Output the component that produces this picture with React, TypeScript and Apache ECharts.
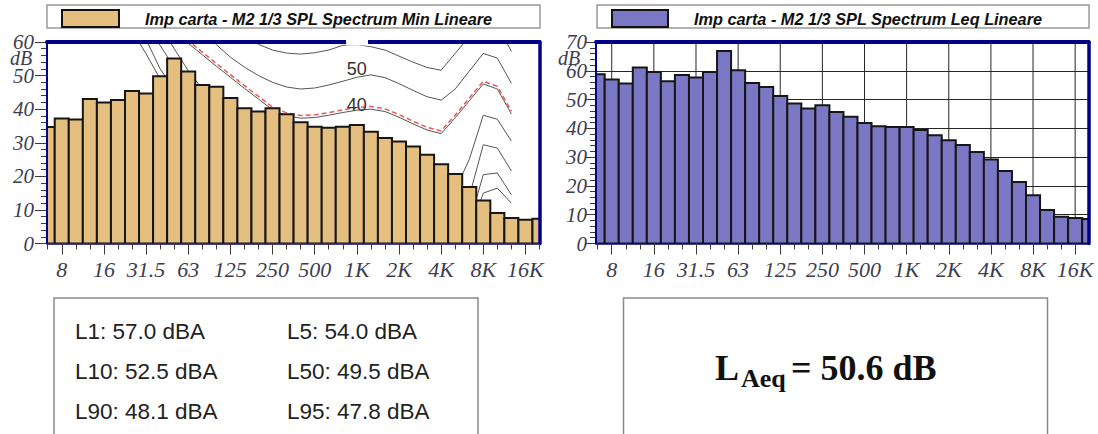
import React, { useEffect, useRef } from 'react';
import * as echarts from 'echarts';

// 1/3-octave band centres (Hz)
const bandLabels = ['6.3', '8', '10', '12.5', '16', '20', '25', '31.5', '40', '50', '63', '80', '100', '125', '160', '200', '250', '315', '400', '500', '630', '800', '1K', '1.25K', '1.6K', '2K', '2.5K', '3.15K', '4K', '5K', '6.3K', '8K', '10K', '12.5K', '16K', '20K'];
const octaveTickLabels = ['8', '16', '31.5', '63', '125', '250', '500', '1K', '2K', '4K', '8K', '16K'];

// Spectrum levels (dB)
const minLevels = [34.7, 37.2, 36.9, 43.0, 42.0, 42.7, 45.4, 44.7, 49.8, 55.1, 51.2, 47.2, 46.7, 43.3, 40.3, 39.3, 40.3, 38.5, 36.1, 34.8, 34.5, 34.8, 35.3, 33.3, 31.4, 30.4, 28.9, 26.4, 23.6, 20.7, 16.8, 12.8, 9.1, 7.6, 7.1, 7.4];
const leqLevels = [58.8, 57.0, 55.6, 61.1, 59.6, 56.4, 58.5, 57.7, 59.6, 66.9, 60.2, 55.8, 54.4, 51.2, 48.6, 46.9, 48.0, 45.7, 44.0, 41.9, 40.7, 40.5, 40.5, 39.4, 37.6, 35.9, 34.2, 31.8, 29.2, 25.2, 21.4, 16.8, 11.6, 9.3, 8.9, 8.5];

// Equal-loudness contours drawn in the Min chart (dB per band, null = not drawn)
const N = null;
const phonThreshold = [N, N, N, N, N, N, 63.4, 56.5, 49, 42.5, 36.5, 31, 26.5, 22.5, 19, 16, 13.5, 11.5, 10, 9, 8.5, 8, 8, 8, 7, 5, 3, 1.5, 0.5, 0.5, 3, 15, 16.5, 12, N, N];
const phon10 = [N, N, N, N, N, N, 68, 60.8, 52, 46, 40.5, 35.5, 31, 27, 23.5, 20.5, 18, 16, 14.5, 13.8, 13.5, 13.5, 13.5, 13.5, 12.5, 10.5, 8, 6, 4.5, 4, 6, 20.5, 21, 14.5, N, N];
const phon20 = [N, N, N, N, N, N, N, 66, 59, 52.5, 46.5, 41, 36.5, 32.5, 29, 26.5, 24, 22.5, 21.5, 21.3, 21.5, 22, 22.3, 22.3, 21.3, 19.3, 17, 14.5, 12, 10, 14, 29.4, 28.4, 21.6, N, N];
const phon30 = [N, N, N, N, N, N, N, N, 65, 58, 51.5, 46, 41.5, 38, 35, 32.5, 30.5, 29, 28.5, 28.8, 29.3, 30, 30.5, 30.6, 29.6, 27.5, 25, 22, 19, 16, 25, 38.2, 37, 30.5, N, N];
const phon40 = [N, N, N, N, N, N, N, N, N, 63, 59.6, 56.2, 52.8, 49.5, 46.2, 43, 39.8, 38.1, 37.3, 37.5, 38.2, 39, 39.7, 40, 39.3, 37.6, 35.6, 33.8, 32.7, 37.4, 42.5, 47.5, 46, 38.6, N, N];
const loudnessFit = [N, N, N, N, N, N, N, N, N, 63.8, 60.4, 57, 53.6, 50.3, 47, 43.8, 40.6, 38.9, 38.1, 38.3, 39, 39.8, 40.5, 40.8, 40.1, 38.4, 36.4, 34.6, 33.5, 38.2, 43.3, 48.3, 46.8, 39.4, N, N];
const phon50 = [N, N, N, N, N, N, N, N, N, 75, 69.5, 63.8, 59.2, 55.5, 52.5, 50, 48, 46.6, 46, 46.3, 47.2, 48.3, 49.5, 50.2, 49.4, 47.6, 45.6, 43.7, 42.7, 46, 51.3, 56.6, 55.2, 47.7, N, N];
const phon60 = [N, N, N, N, N, N, N, N, N, N, N, N, 71, 66.5, 62.3, 59.3, 57.6, 56.7, 56.4, 56.8, 57.6, 59, 59.2, 58.6, 57.6, 55.8, 54, 52.4, 51.6, 56.6, 61.6, 66.5, 65, 57.2, N, N];
const contourLabelBand = '1K';

const statsLeftColumn = ['L1: 57.0 dBA', 'L10: 52.5 dBA', 'L90: 48.1 dBA'];
const statsRightColumn = ['L5: 54.0 dBA', 'L50: 49.5 dBA', 'L95: 47.8 dBA'];
const laeq = '50.6';

const minName = 'Imp carta - M2 1/3 SPL Spectrum Min Lineare';
const leqName = 'Imp carta - M2 1/3 SPL Spectrum Leq Lineare';

const NAVY = '#000088';
const TICK = '#3a3a3a';
const LABEL = '#3d3d4f';
const SERIF = '"Liberation Serif", "Times New Roman", serif';
const SANS = '"Liberation Sans", Arial, sans-serif';
const TAN = '#E5BF80';
const PURPLE = '#7A78C4';

const bandIdx = bandLabels.map((_, i) => i);
const octaveIdx = octaveTickLabels.map((l) => bandLabels.indexOf(l));
const labelIdx = bandLabels.indexOf(contourLabelBand);

function xMain(g: number, min: number, max: number) {
  return {
    gridIndex: g, type: 'value', min, max, position: 'bottom', z: 10,
    axisLine: { show: true, onZero: false, lineStyle: { color: NAVY, width: 1.5 } },
    axisTick: { show: true, customValues: bandIdx, length: 6, lineStyle: { color: TICK, width: 1 } },
    axisLabel: {
      show: true, customValues: octaveIdx, formatter: (v: number) => bandLabels[Math.round(v)],
      margin: 15, fontFamily: SERIF, fontStyle: 'italic', fontSize: 22, color: LABEL,
    },
    splitLine: { show: false },
  };
}
function xMajor(g: number, min: number, max: number) {
  return {
    gridIndex: g, type: 'value', min, max, position: 'bottom', z: 10,
    axisLine: { show: false, onZero: false },
    axisTick: { show: true, customValues: octaveIdx, length: 11, lineStyle: { color: TICK, width: 1 } },
    axisLabel: { show: false }, splitLine: { show: false },
  };
}
function xTop(g: number, min: number, max: number) {
  return {
    gridIndex: g, type: 'value', min, max, position: 'top', z: 10,
    axisLine: { show: true, onZero: false, lineStyle: { color: NAVY, width: 4 } },
    axisTick: { show: false }, axisLabel: { show: false }, splitLine: { show: false },
  };
}
function yMain(g: number, max: number, margin: number, tickLen: number, grid: boolean) {
  return {
    gridIndex: g, type: 'value', min: 0, max, interval: 10, position: 'left',
    axisLine: { show: false, onZero: false },
    axisTick: { show: true, length: tickLen, lineStyle: { color: TICK, width: 1 } },
    minorTick: { show: true, splitNumber: 5, length: 6, lineStyle: { color: TICK, width: 1 } },
    axisLabel: { margin, fontFamily: SERIF, fontStyle: 'italic', fontSize: 21, color: LABEL },
    splitLine: { show: grid, lineStyle: { color: '#262626', width: 1 } },
  };
}
function yFrame(g: number, max: number, position: string, width: number) {
  return {
    gridIndex: g, type: 'value', min: 0, max, position, z: 10,
    axisLine: { show: true, onZero: false, lineStyle: { color: NAVY, width } },
    axisTick: { show: false }, axisLabel: { show: false }, splitLine: { show: false },
  };
}

function barSeries(name: string, xi: number, yi: number, values: number[], color: string) {
  return {
    type: 'custom', name, xAxisIndex: xi, yAxisIndex: yi, z: 3, clip: true, silent: true,
    itemStyle: { color },
    encode: { x: 0, y: 1 },
    data: values.map((v, i) => [i, v]),
    renderItem: (_p: any, api: any) => {
      const i = api.value(0);
      const v = api.value(1);
      const a = api.coord([i - 0.5, v]);
      const b = api.coord([i + 0.5, 0]);
      return {
        type: 'rect',
        shape: { x: a[0], y: a[1], width: b[0] - a[0], height: b[1] - a[1] },
        style: { fill: color, stroke: '#161616', lineWidth: 2 },
      };
    },
  };
}

function contourSeries(values: (number | null)[], red: boolean, label?: string, offsetY?: number) {
  const data = values.map((v, i) => (v == null ? null : [i, v])).filter((d) => d != null);
  const s: any = {
    type: 'line', xAxisIndex: 0, yAxisIndex: 0, z: 1, silent: true, clip: true,
    symbol: 'none', data,
    lineStyle: red ? { color: '#ef5656', width: 1.5, type: [5, 3] } : { color: '#555', width: 1 },
  };
  if (label) {
    s.markPoint = {
      silent: true, symbol: 'rect', symbolSize: 1, itemStyle: { color: 'rgba(0,0,0,0)' },
      data: [{ coord: [labelIdx, values[labelIdx]], value: label }],
      label: { show: true, formatter: label, offset: [0, offsetY || 0], fontFamily: SANS, fontSize: 18, color: '#333' },
    };
  }
  return s;
}

function gridLineSeries() {
  return {
    type: 'custom', xAxisIndex: 3, yAxisIndex: 3, z: 1, clip: true, silent: true,
    encode: { x: 0, y: 1 },
    data: octaveIdx.map((i) => [i, 0]),
    renderItem: (_p: any, api: any) => {
      const x = api.value(0);
      const t = api.coord([x, 70]);
      const b = api.coord([x, 0]);
      return { type: 'line', shape: { x1: t[0], y1: t[1], x2: b[0], y2: b[1] }, style: { stroke: '#262626', lineWidth: 1 } };
    },
  };
}

function txt(text: string, x: number, y: number, font: any) {
  return {
    type: 'text', x, y, silent: true,
    style: { text, ...font, verticalAlign: 'middle', textVerticalAlign: 'middle', align: 'left', textAlign: 'left' },
  };
}

function buildOption() {
  const legendText = { fontFamily: SANS, fontSize: 16.3, fontWeight: 'bold', fontStyle: 'italic', color: '#111', padding: [0, 0, 4, 21] };
  const statFont = { fontFamily: SANS, fontSize: 22.5, fill: '#222' };
  const dbFont = { fontFamily: SERIF, fontStyle: 'italic', fontSize: 20, fill: LABEL };
  const graphic: any[] = [
    { type: 'rect', shape: { x: 47, y: 5, width: 493, height: 23 }, style: { fill: '#fff', stroke: '#999', lineWidth: 1.5 }, silent: true },
    { type: 'rect', shape: { x: 597, y: 5, width: 492, height: 23 }, style: { fill: '#fff', stroke: '#999', lineWidth: 1.5 }, silent: true },
    { type: 'rect', shape: { x: 346, y: 39.5, width: 22, height: 6 }, style: { fill: '#fff' }, z: 100, silent: true },
    txt('dB', 10, 58, dbFont),
    txt('dB', 558, 58, dbFont),
    { type: 'rect', shape: { x: 54, y: 298, width: 424, height: 160 }, style: { fill: 'none', stroke: '#8a8a8a', lineWidth: 1.5 }, silent: true },
    { type: 'rect', shape: { x: 623.5, y: 298, width: 424, height: 160 }, style: { fill: 'none', stroke: '#8a8a8a', lineWidth: 1.5 }, silent: true },
    ...statsLeftColumn.map((s, k) => txt(s, 75, 331.7 + 40 * k, statFont)),
    ...statsRightColumn.map((s, k) => txt(s, 287, 331.7 + 40 * k, statFont)),
    txt('L', 715, 367.8, { fontFamily: SERIF, fontWeight: 'bold', fontSize: 36, fill: '#111' }),
    txt('Aeq', 741, 378, { fontFamily: SERIF, fontWeight: 'bold', fontSize: 26, fill: '#111' }),
    txt('= ' + laeq + ' dB', 791, 367.8, { fontFamily: SERIF, fontWeight: 'bold', fontSize: 36, fill: '#111' }),
  ];

  return {
    animation: false,
    backgroundColor: '#fff',
    grid: [
      { left: 47, top: 42, width: 492.5, height: 201.5 },
      { left: 596, top: 42, width: 492.5, height: 201.5 },
    ],
    legend: [
      {
        data: [{ name: minName, icon: 'rect' }], left: 61, top: 9, itemWidth: 57, itemHeight: 17, padding: 0,
        selectedMode: false, z: 10, textStyle: legendText, itemStyle: { borderColor: '#111', borderWidth: 2 },
      },
      {
        data: [{ name: leqName, icon: 'rect' }], left: 611, top: 9, itemWidth: 56, itemHeight: 17, padding: 0,
        selectedMode: false, z: 10, textStyle: legendText, itemStyle: { borderColor: '#111', borderWidth: 2 },
      },
    ],
    xAxis: [
      xMain(0, -0.05, 35), xMajor(0, -0.05, 35), xTop(0, -0.05, 35),
      xMain(1, -0.12, 34.95), xMajor(1, -0.12, 34.95), xTop(1, -0.12, 34.95),
    ],
    yAxis: [
      yMain(0, 60, 13, 12, false), yFrame(0, 60, 'right', 3.5), yFrame(0, 60, 'left', 2),
      yMain(1, 70, 9, 10, true), yFrame(1, 70, 'right', 3.5), yFrame(1, 70, 'left', 2),
    ],
    graphic,
    series: [
      contourSeries(phon60, false),
      contourSeries(phon50, false, '50', -8),
      contourSeries(phon40, false, '40', -5),
      contourSeries(loudnessFit, true),
      contourSeries(phon30, false),
      contourSeries(phon20, false),
      contourSeries(phon10, false),
      contourSeries(phonThreshold, false),
      barSeries(minName, 0, 0, minLevels, TAN),
      gridLineSeries(),
      barSeries(leqName, 3, 3, leqLevels, PURPLE),
    ],
  };
}

export default function App() {
  const ref = useRef<HTMLDivElement>(null);
  useEffect(() => {
    document.body.style.margin = '0';
    const chart = echarts.init(ref.current as HTMLDivElement, null, { renderer: 'svg' });
    chart.setOption(buildOption() as any);
    return () => chart.dispose();
  }, []);
  return <div ref={ref} style={{ position: 'absolute', left: 0, top: 0, width: 1098, height: 434, background: '#fff' }} />;
}
